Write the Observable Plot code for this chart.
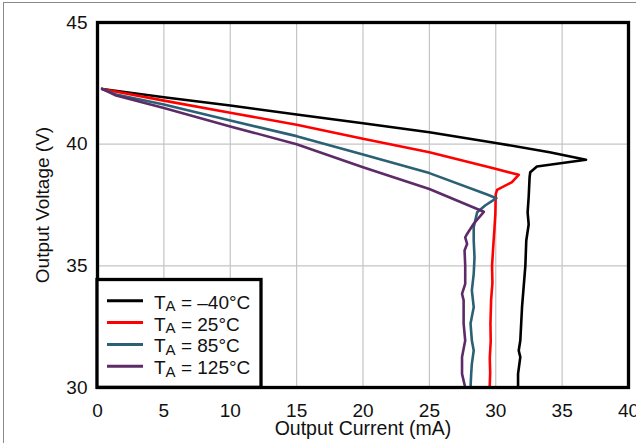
<!DOCTYPE html>
<html><head><meta charset="utf-8">
<script src="https://cdn.jsdelivr.net/npm/d3@7"></script>
<script src="https://cdn.jsdelivr.net/npm/@observablehq/plot@0.6"></script>
<style>
body{margin:0;background:#fff;}
#wrap{position:relative;width:636px;height:443px;overflow:hidden;background:#fff;}
#border{position:absolute;left:3px;top:2px;right:-10px;bottom:-10px;border-left:1.6px solid #8a8a8a;border-top:1.6px solid #8a8a8a;pointer-events:none;}
</style></head><body><div id="wrap"><div id="border"></div></div>
<script>
// Series labels (subscript part kept separately) and colours
const seriesSub = ["A", "A", "A", "A"];
const seriesTemp = ["–40°C", "25°C", "85°C", "125°C"];
const seriesKeys = ["-40", "25", "85", "125"];
const seriesColors = ["#000000", "#ff0000", "#2b6075", "#5c2b68"];

// T_A = -40°C
const currentM40 = [0.35, 5, 10, 15, 20, 25, 30, 34.06, 36.8, 33.1, 32.6, 32.55, 32.48, 32.4, 32.48, 32.3, 32.23, 31.98, 31.85, 31.73, 31.85, 31.68, 31.68];
const voltageM40 = [42.27, 41.93, 41.59, 41.22, 40.86, 40.49, 40.05, 39.67, 39.36, 39.08, 38.85, 38.64, 37.82, 37.2, 36.7, 36.04, 35.0, 33.3, 31.93, 31.52, 31.25, 30.56, 30.0];
// T_A = 25°C
const current25 = [0.35, 5, 10, 15, 20, 25, 29.97, 31.73, 31.22, 30.1, 30.0, 29.97, 29.9, 29.84, 29.72, 29.75, 29.65, 29.6, 29.62, 29.55, 29.58, 29.54];
const voltage25 = [42.27, 41.79, 41.29, 40.8, 40.22, 39.67, 38.99, 38.74, 38.44, 38.12, 37.95, 37.14, 36.5, 36.04, 35.0, 34.3, 33.6, 32.62, 31.9, 31.2, 30.6, 30.0];
// T_A = 85°C
const current85 = [0.35, 1.4, 5, 10, 15, 20, 25, 29.35, 30.05, 29.2, 28.6, 28.34, 28.34, 28.4, 28.34, 28.2, 28.34, 28.1, 28.2, 28.34, 28.2, 28.15, 28.1];
const voltage85 = [42.27, 42.04, 41.63, 40.97, 40.33, 39.58, 38.81, 37.93, 37.78, 37.48, 37.2, 36.59, 36.04, 35.35, 34.67, 33.99, 33.3, 32.63, 31.93, 31.52, 30.97, 30.56, 30.0];
// T_A = 125°C
const current125 = [0.35, 1.4, 5, 10, 15, 20, 25, 29.1, 28.34, 27.84, 27.7, 27.84, 27.65, 27.7, 27.7, 27.46, 27.58, 27.58, 27.7, 27.46, 27.46, 27.7];
const voltage125 = [42.27, 42.0, 41.49, 40.73, 40.0, 39.05, 38.16, 37.22, 36.73, 36.31, 36.17, 35.9, 35.63, 35.0, 34.26, 33.85, 33.58, 32.62, 31.93, 31.25, 30.56, 30.0];

const xTicks = [0, 5, 10, 15, 20, 25, 30, 35, 40];
const yTicks = [30, 35, 40, 45];
const xLabel = "Output Current (mA)";
const yLabel = "Output Voltage (V)";

const allCurrents = [currentM40, current25, current85, current125];
const allVoltages = [voltageM40, voltage25, voltage85, voltage125];
const rows = [];
seriesKeys.forEach((k, s) => {
  allCurrents[s].forEach((c, i) => rows.push({series: k, current: c, voltage: allVoltages[s][i]}));
});

const FONT = "'Liberation Sans', Arial, Helvetica, sans-serif";
const W = 636, H = 443;
const mL = 97, mR = 8, mT = 22, mB = 56;

const plot = Plot.plot({
  width: W, height: H,
  marginLeft: mL, marginRight: mR, marginTop: mT, marginBottom: mB,
  style: {fontFamily: FONT, fontSize: "19px", background: "transparent", color: "#111"},
  x: {domain: [0, 40], label: null},
  y: {domain: [30, 45], label: null},
  color: {domain: seriesKeys, range: seriesColors},
  marks: [
    Plot.gridX(xTicks, {stroke: "#c4c4c4", strokeOpacity: 1, strokeWidth: 1.2}),
    Plot.gridY(yTicks, {stroke: "#c4c4c4", strokeOpacity: 1, strokeWidth: 1.2}),
    Plot.line(rows, {x: "current", y: "voltage", z: "series", stroke: "series", strokeWidth: 2.6, strokeLinejoin: "round"}),
    Plot.frame({stroke: "#000", strokeWidth: 3.3}),
    Plot.axisX({ticks: xTicks, tickSize: 0, tickPadding: 16, fontSize: 19, label: null}),
    Plot.axisY({ticks: yTicks, tickSize: 0, tickPadding: 10, fontSize: 19, label: null}),
    Plot.text([xLabel], {frameAnchor: "bottom", textAnchor: "middle", lineAnchor: "middle", dy: 41.5, fontSize: 19.5}),
    Plot.text([yLabel], {frameAnchor: "left", textAnchor: "middle", lineAnchor: "middle", dx: -55, rotate: -90, fontSize: 19})
  ]
});

// Legend box inside the plot area (bottom-left)
const svg = d3.select(plot);
const lg = svg.append("g").attr("font-family", FONT).attr("fill", "#111").attr("text-anchor", "start");
lg.append("rect").attr("x", 97).attr("y", 279.5).attr("width", 164).attr("height", 107.8)
  .attr("fill", "#fff").attr("stroke", "#000").attr("stroke-width", 3.3);
seriesKeys.forEach((k, i) => {
  const yy = 300.8 + i * 21.8;
  lg.append("line").attr("x1", 107).attr("x2", 143).attr("y1", yy).attr("y2", yy)
    .attr("stroke", seriesColors[i]).attr("stroke-width", 3);
  const t = lg.append("text").attr("x", 154).attr("y", yy + 8).attr("font-size", 19).attr("text-anchor", "start");
  t.append("tspan").text("T");
  t.append("tspan").attr("font-size", 15).attr("dy", 2.5).text(seriesSub[i]);
  t.append("tspan").attr("dy", -2.5).text(" = " + seriesTemp[i]);
});

document.getElementById("wrap").prepend(plot);
</script>
</body></html>
